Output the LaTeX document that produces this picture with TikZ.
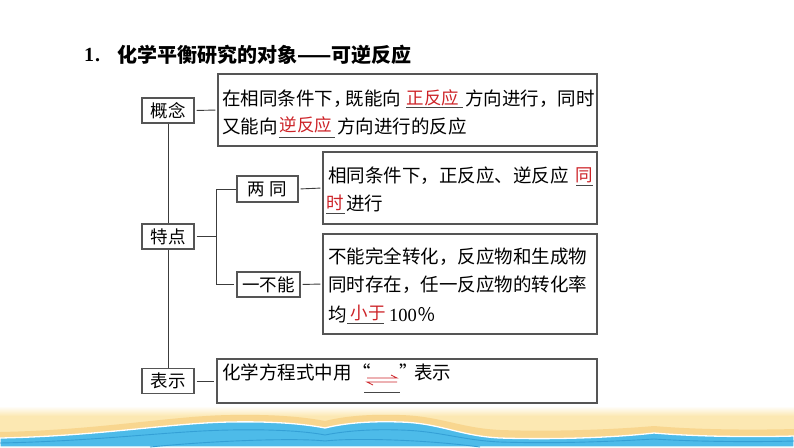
\documentclass[tikz,border=0pt]{standalone}
\usepackage{fontspec}
\setmainfont{Liberation Serif}
\newfontfamily\cjk{Noto Sans CJK SC}
\XeTeXlinebreaklocale "zh"
\XeTeXlinebreakskip=0pt plus 1fil
\newcommand\spr[2]{\hbox to #1pt{#2}}
\definecolor{boxc}{RGB}{85,85,85}
\definecolor{linec}{RGB}{60,60,60}
\definecolor{ansred}{RGB}{205,35,40}
\definecolor{ulc}{RGB}{70,70,70}
\definecolor{sandA}{RGB}{252,232,178}
\definecolor{sandB}{RGB}{248,214,143}
\definecolor{seaA}{RGB}{77,187,233}
\definecolor{seaB}{RGB}{52,160,214}
\begin{document}
\begin{tikzpicture}[x=1pt,y=-1pt,
  lbl/.style={draw=boxc, line width=1.1pt, minimum width=52pt, minimum height=25pt, inner sep=0pt, font=\cjk\fontsize{17.5}{17.5}\selectfont},
  tbox/.style={draw=boxc, line width=1.1pt, inner sep=0pt},
  txt/.style={anchor=west, inner sep=0pt, font=\cjk\fontsize{18.5}{18.5}\selectfont},
  ans/.style={anchor=center, inner sep=0pt, text=ansred, font=\cjk\fontsize{17.5}{17.5}\selectfont},
  uln/.style={draw=ulc, line width=0.8pt},
  conn/.style={draw=linec, line width=0.9pt, shorten <=2pt, shorten >=2pt},
  eqa/.style={draw=ansred, line width=0.8pt}]
\useasboundingbox (0,0) rectangle (794,447);
\fill[white] (0,0) rectangle (794,447);

% ---- bottom decoration ----
\shade[top color=white, bottom color=sandA] (0,406) rectangle (794,416);
\fill[sandA] (0,416) rectangle (794,447);
\fill[sandB] (0,447) -- (0,432) .. controls (100,430) and (170,416) .. (230,415)
  .. controls (280,414) and (310,418) .. (325,421) .. controls (345,416) and (370,414) .. (400,415)
  .. controls (440,416) and (460,428) .. (500,430) .. controls (560,432) and (620,429) .. (654,426)
  .. controls (700,430) and (760,430) .. (794,429) -- (794,447) -- cycle;
\fill[seaA, draw=white, line width=1.3pt] (0,447) -- (0,438) .. controls (100,436) and (170,423) .. (230,422)
  .. controls (280,421) and (310,425) .. (325,428) .. controls (345,423) and (370,421) .. (400,422)
  .. controls (440,423) and (460,436) .. (500,438) .. controls (560,440) and (620,437) .. (654,433)
  .. controls (700,437) and (760,437) .. (794,436) -- (794,447) -- cycle;
\draw[seaB, line width=0.9pt] (0,443) .. controls (100,441) and (170,431) .. (230,430)
  .. controls (280,429) and (310,432) .. (325,435) .. controls (345,431) and (370,429) .. (400,430)
  .. controls (440,431) and (460,440) .. (500,442) .. controls (560,444) and (620,441) .. (654,439)
  .. controls (700,442) and (760,442) .. (794,441);
\draw[seaB, line width=0.9pt] (150,447) .. controls (220,440) and (300,438) .. (325,441)
  .. controls (350,438) and (420,439) .. (480,447);

% ---- title ----
\node[anchor=west, inner sep=0pt, font=\bfseries\fontsize{20}{20}\selectfont] (t1) at (84,55) {1\kern1pt.};
\node[anchor=west, inner sep=0pt, font=\cjk\bfseries\fontsize{20}{20}\selectfont] (t2) at (117,55) {\spr{296}{化学平衡研究的对象——可逆反应}};

% ---- label boxes ----
\node[lbl] (gn) at (168,110.5) {概念};
\node[lbl] (td) at (168,236.5) {特点};
\node[lbl] (bs) at (168,381) {表示};
\node[lbl, minimum width=61pt, minimum height=26pt] (lt) at (267.5,189) {两\hspace{5pt}同};
\node[lbl, minimum width=63pt] (yb) at (268.5,284.5) {一不能};

% ---- text boxes ----
\node[tbox, minimum width=379pt, minimum height=72pt] (cb) at (407.5,110) {};
\node[tbox, minimum width=274pt, minimum height=72pt] (lb) at (460,188) {};
\node[tbox, minimum width=274pt, minimum height=100pt] (nb) at (460,284) {};
\node[tbox, minimum width=380pt, minimum height=44pt] (rb) at (407,381) {};

% ---- connectors ----
\coordinate (br) at (216,236.5);
\coordinate (bt) at (216,189);
\coordinate (bb) at (216,284.5);
\draw[conn] (gn.east) -- (cb.west);
\draw[conn] (lt.east) -- (lb.west);
\draw[conn] (yb.east) -- (nb.west);
\draw[conn] (bs.east) -- (rb.west);
\draw[draw=linec, line width=0.9pt] (gn.south) -- (td.north);
\draw[draw=linec, line width=0.9pt] (td.south) -- (bs.north);
\draw[draw=linec, line width=0.9pt, shorten <=2pt] (td.east) -- (br);
\draw[draw=linec, line width=0.9pt, shorten >=2pt] (lt.west) -- (bt) -- (bb) -- (yb.west);

% ---- concept text ----
\node[txt] (c1a) at (222,99) {\spr{179}{在相同条件下，\kern-6pt 既能向}};
\node[ans] (c1r) at (433,98) {正反应};
\node[txt] (c1b) at (465,99) {\spr{129}{方向进行，同时}};
\draw[uln] (406,107.5) -- (463,107.5);
\node[txt] (c2a) at (222,126) {\spr{56}{又能向}};
\node[ans] (c2r) at (306,125) {逆反应};
\node[txt] (c2b) at (337,126) {\spr{131}{方向进行的反应}};
\draw[uln] (279,137) -- (335,137);

% ---- liang tong text ----
\node[txt] (l1a) at (328,176) {\spr{243}{相同条件下，正反应、逆反应}};
\node[ans] (l1r) at (584.5,175) {同};
\draw[uln] (576,185.5) -- (593,185.5);
\node[ans] (l2r) at (335.5,203) {时};
\draw[uln] (326,213) -- (345,213);
\node[txt] (l2b) at (346,203) {\spr{38}{进行}};

% ---- yi bu neng text ----
\node[txt] (n1) at (328,257) {\spr{264}{不能完全转化，反应物和生成物}};
\node[txt] (n2) at (328,285) {\spr{264}{同时存在，任一反应物的转化率}};
\node[txt] (n3a) at (328,314) {均};
\node[ans] (n3r) at (368,313) {小于};
\draw[uln] (347,323) -- (384,323);
\node[anchor=west, inner sep=0pt, font=\fontsize{18.5}{18.5}\selectfont] (n3b) at (389,314.5) {100\hspace{1pt}{\cjk ％}};

% ---- biao shi text ----
\node[txt] (r1a) at (222,372) {\spr{138}{化学方程式中用}};
\node[txt] (r1q) at (352,372) {“};
\draw[eqa] (367,378) -- (397,378) -- (391,375);
\draw[eqa] (397,382) -- (367,382) -- (373,385);
\draw[uln] (364,392) -- (400,392);
\node[txt] (r1e) at (399,372) {”};
\node[txt] (r1b) at (414,372) {\spr{37}{表示}};
\end{tikzpicture}
\end{document}
